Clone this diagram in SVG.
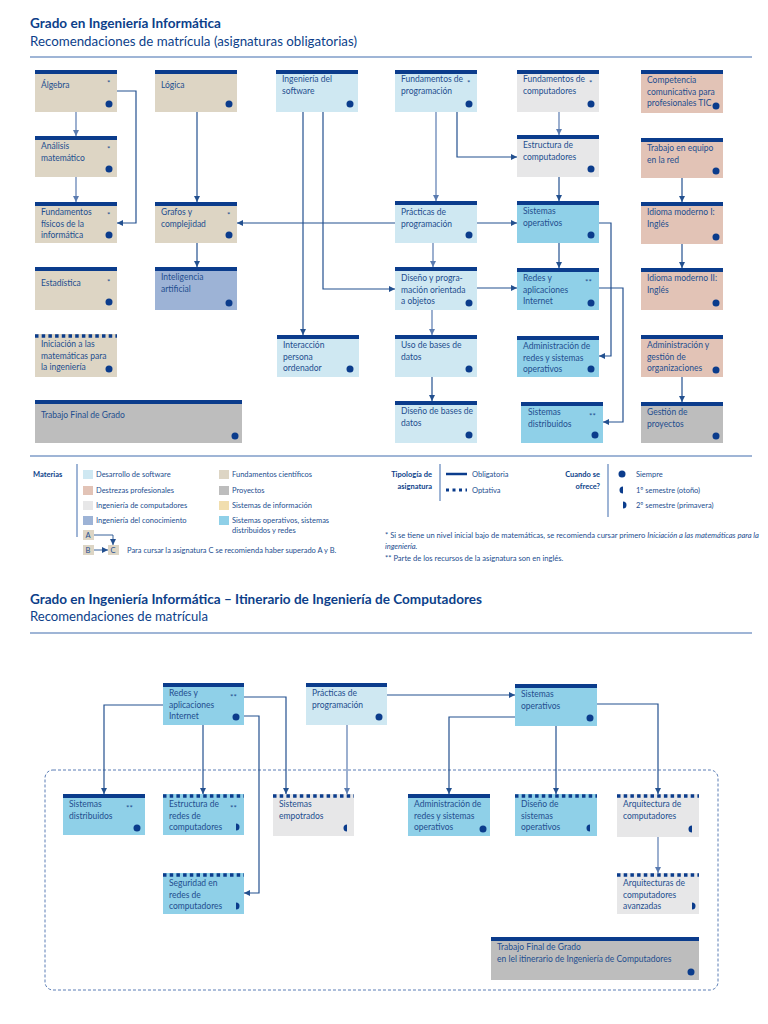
<svg xmlns="http://www.w3.org/2000/svg" width="768" height="1024" viewBox="0 0 768 1024">
<defs>
<marker id="ah" markerWidth="6" markerHeight="6" refX="6" refY="3" orient="auto" markerUnits="userSpaceOnUse"><path d="M0,0 L6,3 L0,6 z" fill="#23508f"/></marker>
<marker id="ahl" markerWidth="6" markerHeight="6" refX="6" refY="3" orient="auto" markerUnits="userSpaceOnUse"><path d="M0,0 L6,3 L0,6 z" fill="#5a7bb0"/></marker>
<style>
.t{font-family:Lato,"Liberation Sans",sans-serif;font-size:8.5px;fill:#234e8f}
.ast{font-family:Lato,"Liberation Sans",sans-serif;font-size:8px;fill:#234e8f}
.h1{font-family:Lato,"Liberation Sans",sans-serif;font-size:14px;font-weight:bold;fill:#0d3f8a}
.h2{font-family:Lato,"Liberation Sans",sans-serif;font-size:13px;fill:#0d3f8a}
.lg{font-family:Lato,"Liberation Sans",sans-serif;font-size:7.5px;fill:#234e8f}
.lgb{font-family:Lato,"Liberation Sans",sans-serif;font-size:7.5px;font-weight:bold;fill:#0d3f8a}
.fn{font-family:Lato,"Liberation Sans",sans-serif;font-size:7.6px;fill:#234e8f}
.bar{fill:#0b3c8c}
.dash{stroke:#0b3c8c;stroke-width:3.5;stroke-dasharray:3.5 3.2;fill:none}
.dot{fill:#0b3c8c}
.fc{fill:#ddd5c4}.ds{fill:#cfe8f2}.ic{fill:#e7e7e8}.ik{fill:#9db3d6}.dp{fill:#e2c3b6}.pr{fill:#bdbdbd}.si{fill:#f1deae}.so{fill:#8fd0e8}
.sep{stroke:#7f9cc8;stroke-width:1.5;fill:none}
.c{stroke:#23508f;stroke-width:1.2;fill:none;marker-end:url(#ah)}
.cl{stroke:#5a7bb0;stroke-width:1.2;fill:none;marker-end:url(#ahl)}
</style>
</defs>

<!-- Top header -->
<text class="h1" x="30" y="28" textLength="191" lengthAdjust="spacingAndGlyphs">Grado en Ingeniería Informática</text>
<text class="h2" x="30" y="46" textLength="327" lengthAdjust="spacingAndGlyphs">Recomendaciones de matrícula (asignaturas obligatorias)</text>
<line class="sep" x1="30" y1="57" x2="752" y2="57"/>

<!-- Top connectors -->
<g id="connectors-top">
<path class="cl" d="M76,112 V136"/>
<path class="cl" d="M76,177 V202"/>
<path class="c" d="M117,91 H136 V223 H117"/>
<path class="c" d="M197,112 V202"/>
<path class="c" d="M395,223 H237"/>
<path class="c" d="M197,243 V267"/>
<path class="c" d="M303,112 V335"/>
<path class="c" d="M323,112 V289 H395"/>
<path class="cl" d="M436,112 V201"/>
<path class="c" d="M457,112 V157 H517"/>
<path class="c" d="M477,223 H517"/>
<path class="cl" d="M433,243 V267"/>
<path class="c" d="M477,288 H517"/>
<path class="cl" d="M432,310 V335"/>
<path class="c" d="M432,377 V401"/>
<path class="cl" d="M559,112 V135"/>
<path class="c" d="M559,177 V201"/>
<path class="c" d="M559,243 V268"/>
<path class="c" d="M599,223 H611 V356 H599"/>
<path class="c" d="M599,288 H623 V422 H603"/>
<path class="c" d="M682,178 V202"/>
<path class="c" d="M682,244 V268"/>
<path class="c" d="M682,377 V402"/>
</g>

<!-- Column 1 -->
<g id="algebra"><rect class="fc" x="35" y="70" width="82" height="42"/><rect class="bar" x="35" y="70" width="82" height="4"/><text class="t" x="41" y="88">Álgebra</text><text class="ast" x="107" y="86">*</text><circle class="dot" cx="109" cy="104" r="3.5"/></g>
<g id="analisis"><rect class="fc" x="35" y="136" width="82" height="41"/><rect class="bar" x="35" y="136" width="82" height="4"/><text class="t" x="41" y="149">Análisis</text><text class="t" x="41" y="160.5">matemático</text><text class="ast" x="107" y="152">*</text><circle class="dot" cx="109" cy="169" r="3.5"/></g>
<g id="fisicos"><rect class="fc" x="35" y="202" width="82" height="41"/><rect class="bar" x="35" y="202" width="82" height="4"/><text class="t" x="41" y="215">Fundamentos</text><text class="t" x="41" y="226.5">físicos de la</text><text class="t" x="41" y="238">informática</text><text class="ast" x="107" y="218">*</text><circle class="dot" cx="109" cy="235" r="3.5"/></g>
<g id="estadistica"><rect class="fc" x="35" y="267" width="82" height="43"/><rect class="bar" x="35" y="267" width="82" height="4"/><text class="t" x="41" y="286">Estadística</text><text class="ast" x="107" y="285">*</text><circle class="dot" cx="109" cy="302" r="3.5"/></g>
<g id="iniciacion"><rect class="fc" x="35" y="334" width="82" height="43"/><line class="dash" x1="35" y1="336" x2="117" y2="336"/><text class="t" x="41" y="347">Iniciación a las</text><text class="t" x="41" y="358.5">matemáticas para</text><text class="t" x="41" y="370">la ingeniería</text><circle class="dot" cx="109" cy="369" r="3.5"/></g>
<g id="tfg"><rect class="pr" x="35" y="400" width="207" height="43"/><rect class="bar" x="35" y="400" width="207" height="4"/><text class="t" x="41" y="418">Trabajo Final de Grado</text><circle class="dot" cx="235" cy="436" r="3.5"/></g>

<!-- Column 2 -->
<g id="logica"><rect class="fc" x="155" y="70" width="82" height="42"/><rect class="bar" x="155" y="70" width="82" height="4"/><text class="t" x="161" y="88">Lógica</text><circle class="dot" cx="229" cy="104" r="3.5"/></g>
<g id="grafos"><rect class="fc" x="155" y="202" width="82" height="41"/><rect class="bar" x="155" y="202" width="82" height="4"/><text class="t" x="161" y="215">Grafos y</text><text class="t" x="161" y="226.5">complejidad</text><text class="ast" x="227" y="218">*</text><circle class="dot" cx="229" cy="235" r="3.5"/></g>
<g id="ia"><rect class="ik" x="155" y="267" width="82" height="43"/><rect class="bar" x="155" y="267" width="82" height="4"/><text class="t" x="161" y="280">Inteligencia</text><text class="t" x="161" y="291.5">artificial</text><circle class="dot" cx="229" cy="303" r="3.5"/></g>

<!-- Column 3 -->
<g id="isw"><rect class="ds" x="276" y="70" width="82" height="42"/><rect class="bar" x="276" y="70" width="82" height="4"/><text class="t" x="282" y="82">Ingeniería del</text><text class="t" x="282" y="93.5">software</text><circle class="dot" cx="350" cy="104" r="3.5"/></g>
<g id="ipo"><rect class="ds" x="277" y="335" width="82" height="42"/><rect class="bar" x="277" y="335" width="82" height="4"/><text class="t" x="283" y="348">Interacción</text><text class="t" x="283" y="359.5">persona</text><text class="t" x="283" y="371">ordenador</text><circle class="dot" cx="350" cy="369" r="3.5"/></g>

<!-- Column 4 -->
<g id="fprog"><rect class="ds" x="395" y="70" width="82" height="42"/><rect class="bar" x="395" y="70" width="82" height="4"/><text class="t" x="401" y="82">Fundamentos de</text><text class="t" x="401" y="93.5">programación</text><text class="ast" x="467" y="86">*</text><circle class="dot" cx="469" cy="104" r="3.5"/></g>
<g id="practicas"><rect class="ds" x="395" y="201" width="82" height="42"/><rect class="bar" x="395" y="201" width="82" height="4"/><text class="t" x="401" y="215">Prácticas de</text><text class="t" x="401" y="226.5">programación</text><circle class="dot" cx="469" cy="235" r="3.5"/></g>
<g id="dpoo"><rect class="ds" x="395" y="267" width="82" height="43"/><rect class="bar" x="395" y="267" width="82" height="4"/><text class="t" x="401" y="281">Diseño y progra-</text><text class="t" x="401" y="292.5">mación orientada</text><text class="t" x="401" y="304">a objetos</text><circle class="dot" cx="469" cy="303" r="3.5"/></g>
<g id="usobd"><rect class="ds" x="395" y="335" width="82" height="42"/><rect class="bar" x="395" y="335" width="82" height="4"/><text class="t" x="401" y="348">Uso de bases de</text><text class="t" x="401" y="359.5">datos</text><circle class="dot" cx="469" cy="369" r="3.5"/></g>
<g id="disbd"><rect class="ds" x="395" y="401" width="82" height="42"/><rect class="bar" x="395" y="401" width="82" height="4"/><text class="t" x="401" y="414">Diseño de bases de</text><text class="t" x="401" y="425.5">datos</text><circle class="dot" cx="469" cy="435" r="3.5"/></g>

<!-- Column 5 -->
<g id="fcomp"><rect class="ic" x="517" y="70" width="82" height="42"/><rect class="bar" x="517" y="70" width="82" height="4"/><text class="t" x="523" y="82">Fundamentos de</text><text class="t" x="523" y="93.5">computadores</text><text class="ast" x="589" y="86">*</text><circle class="dot" cx="591" cy="104" r="3.5"/></g>
<g id="ecomp"><rect class="ic" x="517" y="135" width="82" height="42"/><rect class="bar" x="517" y="135" width="82" height="4"/><text class="t" x="523" y="148">Estructura de</text><text class="t" x="523" y="159.5">computadores</text><circle class="dot" cx="591" cy="169" r="3.5"/></g>
<g id="so"><rect class="so" x="517" y="201" width="82" height="42"/><rect class="bar" x="517" y="201" width="82" height="4"/><text class="t" x="523" y="214">Sistemas</text><text class="t" x="523" y="225.5">operativos</text><circle class="dot" cx="591" cy="235" r="3.5"/></g>
<g id="redes"><rect class="so" x="517" y="268" width="82" height="42"/><rect class="bar" x="517" y="268" width="82" height="4"/><text class="t" x="523" y="281">Redes y</text><text class="t" x="523" y="292.5">aplicaciones</text><text class="t" x="523" y="304">Internet</text><text class="ast" x="585" y="285">**</text><circle class="dot" cx="591" cy="303" r="3.5"/></g>
<g id="adminredes"><rect class="so" x="517" y="336" width="82" height="41"/><rect class="bar" x="517" y="336" width="82" height="4"/><text class="t" x="523" y="349">Administración de</text><text class="t" x="523" y="360.5">redes y sistemas</text><text class="t" x="523" y="372">operativos</text><circle class="dot" cx="591" cy="369" r="3.5"/></g>
<g id="sd"><rect class="so" x="521" y="402" width="82" height="41"/><rect class="bar" x="521" y="402" width="82" height="4"/><text class="t" x="528" y="415">Sistemas</text><text class="t" x="528" y="426.5">distribuidos</text><text class="ast" x="589" y="419">**</text><circle class="dot" cx="595" cy="435" r="3.5"/></g>

<!-- Column 6 -->
<g id="competencia"><rect class="dp" x="641" y="70" width="82" height="43"/><rect class="bar" x="641" y="70" width="82" height="4"/><text class="t" x="647" y="83">Competencia</text><text class="t" x="647" y="94.5">comunicativa para</text><text class="t" x="647" y="106">profesionales TIC</text><circle class="dot" cx="716" cy="106" r="3.5"/></g>
<g id="equipo"><rect class="dp" x="641" y="138" width="82" height="40"/><rect class="bar" x="641" y="138" width="82" height="4"/><text class="t" x="647" y="151">Trabajo en equipo</text><text class="t" x="647" y="162.5">en la red</text><circle class="dot" cx="716" cy="171" r="3.5"/></g>
<g id="idioma1"><rect class="dp" x="641" y="202" width="82" height="42"/><rect class="bar" x="641" y="202" width="82" height="4"/><text class="t" x="647" y="215">Idioma moderno I:</text><text class="t" x="647" y="226.5">Inglés</text><circle class="dot" cx="716" cy="237" r="3.5"/></g>
<g id="idioma2"><rect class="dp" x="641" y="268" width="82" height="42"/><rect class="bar" x="641" y="268" width="82" height="4"/><text class="t" x="647" y="281">Idioma moderno II:</text><text class="t" x="647" y="292.5">Inglés</text><circle class="dot" cx="716" cy="303" r="3.5"/></g>
<g id="ago"><rect class="dp" x="641" y="335" width="82" height="42"/><rect class="bar" x="641" y="335" width="82" height="4"/><text class="t" x="647" y="348">Administración y</text><text class="t" x="647" y="359.5">gestión de</text><text class="t" x="647" y="371">organizaciones</text><circle class="dot" cx="716" cy="370" r="3.5"/></g>
<g id="gp"><rect class="pr" x="641" y="402" width="82" height="41"/><rect class="bar" x="641" y="402" width="82" height="4"/><text class="t" x="647" y="415">Gestión de</text><text class="t" x="647" y="426.5">proyectos</text><circle class="dot" cx="716" cy="436" r="3.5"/></g>

<!-- Legend -->
<line class="sep" x1="30" y1="456" x2="752" y2="456"/>
<g id="legend-materias">
<text class="lgb" x="33" y="477">Materias</text>
<line x1="77" y1="464" x2="77" y2="537" stroke="#7f9cc8" stroke-width="1.5"/>
<rect class="ds" x="83" y="470" width="10" height="9"/><text class="lg" x="96" y="477">Desarrollo de software</text>
<rect class="dp" x="83" y="486" width="10" height="9"/><text class="lg" x="96" y="493">Destrezas profesionales</text>
<rect class="ic" x="83" y="501" width="10" height="9"/><text class="lg" x="96" y="508">Ingeniería de computadores</text>
<rect class="ik" x="83" y="516" width="10" height="9"/><text class="lg" x="96" y="523">Ingeniería del conocimiento</text>
<rect class="fc" x="219" y="470" width="10" height="9"/><text class="lg" x="232" y="477">Fundamentos científicos</text>
<rect class="pr" x="219" y="486" width="10" height="9"/><text class="lg" x="232" y="493">Proyectos</text>
<rect class="si" x="219" y="501" width="10" height="9"/><text class="lg" x="232" y="508">Sistemas de información</text>
<rect class="so" x="219" y="516" width="10" height="9"/><text class="lg" x="232" y="523">Sistemas operativos, sistemas</text><text class="lg" x="232" y="533">distribuidos y redes</text>
</g>
<g id="legend-abc">
<rect class="fc" x="83" y="530" width="11" height="10"/><text class="lg" x="85.5" y="538">A</text>
<rect class="fc" x="83" y="545" width="11" height="10"/><text class="lg" x="85.5" y="553">B</text>
<rect class="fc" x="108" y="545" width="11" height="10"/><text class="lg" x="110.5" y="553">C</text>
<path d="M94,535 H113 V545" stroke="#23508f" stroke-width="0.9" fill="none" marker-end="url(#ah)"/>
<path d="M94,550 H108" stroke="#23508f" stroke-width="0.9" fill="none" marker-end="url(#ah)"/>
<text class="lg" x="127" y="553">Para cursar la asignatura C se recomienda haber superado A y B.</text>
</g>
<g id="legend-tipologia">
<text class="lgb" x="432" y="477" text-anchor="end">Tipología de</text>
<text class="lgb" x="432" y="489" text-anchor="end">asignatura</text>
<line x1="440" y1="464" x2="440" y2="501" stroke="#7f9cc8" stroke-width="1.5"/>
<line x1="446" y1="474" x2="467" y2="474" stroke="#0b3c8c" stroke-width="2.5"/>
<line x1="446" y1="490" x2="467" y2="490" stroke="#0b3c8c" stroke-width="3" stroke-dasharray="3 3.5"/>
<text class="lg" x="472" y="477">Obligatoria</text>
<text class="lg" x="472" y="493">Optativa</text>
</g>
<g id="legend-cuando">
<text class="lgb" x="600" y="477" text-anchor="end">Cuando se</text>
<text class="lgb" x="600" y="489" text-anchor="end">ofrece?</text>
<line x1="608" y1="464" x2="608" y2="517" stroke="#7f9cc8" stroke-width="1.5"/>
<circle class="dot" cx="622" cy="474" r="3.5"/>
<path class="dot" d="M623,486.5 A3.5,3.5 0 0 0 623,493.5 Z"/>
<path class="dot" d="M623,501.5 A3.5,3.5 0 0 1 623,508.5 Z"/>
<text class="lg" x="636" y="477">Siempre</text>
<text class="lg" x="636" y="493">1º semestre (otoño)</text>
<text class="lg" x="636" y="508">2º semestre (primavera)</text>
</g>
<g id="footnotes">
<text class="fn" x="385" y="538">* Si se tiene un nivel inicial bajo de matemáticas, se recomienda cursar primero <tspan font-style="italic">Iniciación a las matemáticas para la</tspan></text>
<text class="fn" x="385" y="549" font-style="italic">ingeniería.</text>
<text class="fn" x="385" y="561">** Parte de los recursos de la asignatura son en inglés.</text>
</g>

<!-- Bottom header -->
<text class="h1" x="30" y="604" textLength="452" lengthAdjust="spacingAndGlyphs">Grado en Ingeniería Informática – Itinerario de Ingeniería de Computadores</text>
<text class="h2" x="30" y="621" textLength="178" lengthAdjust="spacingAndGlyphs">Recomendaciones de matrícula</text>
<line class="sep" x1="30" y1="633" x2="752" y2="633"/>

<rect id="itinerario-frame" x="45" y="770" width="673" height="220" rx="8" fill="none" stroke="#5a7db5" stroke-width="1" stroke-dasharray="3 2"/>

<g id="connectors-bottom">
<path class="c" d="M163,705 H104 V794"/>
<path class="c" d="M203,725 V794"/>
<path class="c" d="M244,697 H286 V794"/>
<path class="c" d="M244,716 H259 V893 H244"/>
<path class="cl" d="M347,725 V794"/>
<path class="c" d="M387,695 H515"/>
<path class="c" d="M515,717 H449 V794"/>
<path class="c" d="M556,726 V794"/>
<path class="c" d="M597,704 H658 V794"/>
<path class="cl" d="M658,837 V873"/>
</g>

<g id="b-redes"><rect class="so" x="163" y="683" width="81" height="42"/><rect class="bar" x="163" y="683" width="81" height="4"/><text class="t" x="169" y="696">Redes y</text><text class="t" x="169" y="707.5">aplicaciones</text><text class="t" x="169" y="719">Internet</text><text class="ast" x="230" y="700">**</text><circle class="dot" cx="236" cy="717" r="3.5"/></g>
<g id="b-practicas"><rect class="ds" x="306" y="683" width="81" height="42"/><rect class="bar" x="306" y="683" width="81" height="4"/><text class="t" x="312" y="696">Prácticas de</text><text class="t" x="312" y="707.5">programación</text><circle class="dot" cx="379" cy="717" r="3.5"/></g>
<g id="b-so"><rect class="so" x="515" y="684" width="82" height="42"/><rect class="bar" x="515" y="684" width="82" height="4"/><text class="t" x="521" y="697">Sistemas</text><text class="t" x="521" y="708.5">operativos</text><circle class="dot" cx="590" cy="718" r="3.5"/></g>
<g id="b-sd"><rect class="so" x="63" y="794" width="82" height="41"/><rect class="bar" x="63" y="794" width="82" height="4"/><text class="t" x="69" y="807">Sistemas</text><text class="t" x="69" y="818.5">distribuidos</text><text class="ast" x="126" y="811">**</text><circle class="dot" cx="137" cy="828" r="3.5"/></g>
<g id="b-erc"><rect class="so" x="163" y="794" width="81" height="41"/><line class="dash" x1="163" y1="796" x2="244" y2="796"/><text class="t" x="169" y="807">Estructura de</text><text class="t" x="169" y="818.5">redes de</text><text class="t" x="169" y="830">computadores</text><text class="ast" x="230" y="811">**</text><path class="dot" d="M236,823.5 A3.5,3.5 0 0 1 236,830.5 Z"/></g>
<g id="b-emp"><rect class="ic" x="273" y="794" width="81" height="42"/><line class="dash" x1="273" y1="796" x2="354" y2="796"/><text class="t" x="279" y="807">Sistemas</text><text class="t" x="279" y="818.5">empotrados</text><path class="dot" d="M347,824.5 A3.5,3.5 0 0 0 347,831.5 Z"/></g>
<g id="b-admin"><rect class="so" x="408" y="794" width="82" height="42"/><rect class="bar" x="408" y="794" width="82" height="4"/><text class="t" x="414" y="807">Administración de</text><text class="t" x="414" y="818.5">redes y sistemas</text><text class="t" x="414" y="830">operativos</text><circle class="dot" cx="483" cy="829" r="3.5"/></g>
<g id="b-dso"><rect class="so" x="515" y="794" width="82" height="42"/><line class="dash" x1="515" y1="796" x2="597" y2="796"/><text class="t" x="521" y="807">Diseño de</text><text class="t" x="521" y="818.5">sistemas</text><text class="t" x="521" y="830">operativos</text><path class="dot" d="M590,824.5 A3.5,3.5 0 0 0 590,831.5 Z"/></g>
<g id="b-arq"><rect class="ic" x="617" y="794" width="82" height="43"/><line class="dash" x1="617" y1="796" x2="699" y2="796"/><text class="t" x="623" y="807">Arquitectura de</text><text class="t" x="623" y="818.5">computadores</text><path class="dot" d="M692,825.5 A3.5,3.5 0 0 0 692,832.5 Z"/></g>
<g id="b-seg"><rect class="so" x="163" y="873" width="81" height="41"/><line class="dash" x1="163" y1="875" x2="244" y2="875"/><text class="t" x="169" y="886">Seguridad en</text><text class="t" x="169" y="897.5">redes de</text><text class="t" x="169" y="909">computadores</text><path class="dot" d="M236,902.5 A3.5,3.5 0 0 1 236,909.5 Z"/></g>
<g id="b-arqa"><rect class="ic" x="617" y="873" width="82" height="41"/><line class="dash" x1="617" y1="875" x2="699" y2="875"/><text class="t" x="623" y="886">Arquitecturas de</text><text class="t" x="623" y="897.5">computadores</text><text class="t" x="623" y="909">avanzadas</text><path class="dot" d="M692,902.5 A3.5,3.5 0 0 1 692,909.5 Z"/></g>
<g id="b-tfg"><rect class="pr" x="491" y="937" width="208" height="43"/><rect class="bar" x="491" y="937" width="208" height="4"/><text class="t" x="497" y="950">Trabajo Final de Grado</text><text class="t" x="497" y="961.5">en lel itinerario de Ingeniería de Computadores</text><circle class="dot" cx="691" cy="972" r="3.5"/></g>
</svg>
